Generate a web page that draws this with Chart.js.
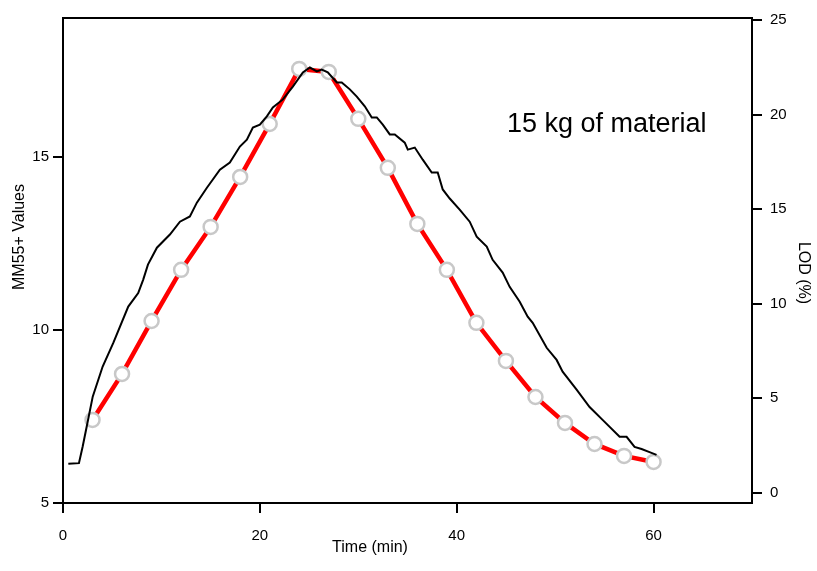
<!DOCTYPE html>
<html>
<head>
<meta charset="utf-8">
<title>MM55+ / LOD</title>
<script src="https://cdn.jsdelivr.net/npm/chart.js@4/dist/chart.umd.min.js"></script>
<style>
  html, body { margin: 0; padding: 0; background: #fff; }
  canvas { display: block; }
</style>
</head>
<body>
<canvas id="c" width="817" height="571"></canvas>
<script>
// MM55+ (courbe continue, axe gauche) et LOD mesure toutes les 3 min (axe droit).
const mmTime = [0.54, 1.62, 2.0, 2.41, 3.02, 4.03, 5.11, 6.63, 7.64, 8.15, 8.63, 9.54, 10.86, 11.88, 12.89,
  13.6, 14.62, 15.94, 16.95, 17.97, 18.68, 19.29, 20.0, 20.71, 21.32, 22.34, 23.35, 24.37, 25.08, 25.79,
  26.29, 26.9, 27.82, 28.32, 29.14, 29.85, 30.66, 31.37, 31.88, 32.49, 33.2, 33.71, 34.72, 35.03, 35.74,
  36.55, 37.46, 38.07, 38.58, 39.29, 40.3, 41.32, 42.03, 43.05, 43.65, 44.67, 45.38, 46.4, 47.21, 47.72,
  49.14, 50.15, 50.76, 52.18, 53.5, 54.82, 56.55, 57.26, 58.07, 58.78, 59.59, 60.3];
const mmValues = [6.13, 6.15, 6.63, 7.21, 8.07, 8.94, 9.62, 10.67, 11.06, 11.45, 11.88, 12.37, 12.75, 13.12, 13.27,
  13.67, 14.10, 14.62, 14.83, 15.29, 15.49, 15.84, 15.92, 16.16, 16.42, 16.65, 17.02, 17.43, 17.57, 17.46,
  17.51, 17.43, 17.14, 17.14, 16.94, 16.73, 16.45, 16.13, 16.13, 15.92, 15.64, 15.64, 15.40, 15.20, 15.26,
  14.91, 14.54, 14.54, 14.05, 13.79, 13.47, 13.12, 12.69, 12.40, 12.02, 11.65, 11.24, 10.81, 10.38, 10.20,
  9.48, 9.13, 8.79, 8.27, 7.77, 7.40, 6.91, 6.91, 6.62, 6.56, 6.47, 6.39];

const lodTime = [3, 6, 9, 12, 15, 18, 21, 24, 27, 30, 33, 36, 39, 42, 45, 48, 51, 54, 57, 60];
const lodValues = [3.86, 6.29, 9.09, 11.79, 14.06, 16.70, 19.50, 22.41, 22.25, 19.77, 17.18, 14.22, 11.79,
  8.99, 6.98, 5.07, 3.70, 2.59, 1.96, 1.64];

const xTicks = [0, 20, 40, 60];
const mmTicks = [5, 10, 15];
const lodTicks = [0, 5, 10, 15, 20, 25];

const FONT = "'Liberation Sans', Arial, sans-serif";

function fixTicks(list) {
  return scale => { scale.ticks = list.map(v => ({ value: v })); };
}

const axisStyle = {
  grid: { drawOnChartArea: false, drawTicks: true, tickLength: 10, color: "#000", lineWidth: 2 },
  border: { display: true, color: "#000", width: 2 },
};

// cadre du haut + titres et annotation, places a la main
const decor = {
  id: "decor",
  afterDraw(chart) {
    const { ctx, chartArea: a } = chart;
    ctx.save();
    ctx.strokeStyle = "#000";
    ctx.lineWidth = 2;
    ctx.beginPath();
    ctx.moveTo(a.left - 1, a.top);
    ctx.lineTo(a.right + 1, a.top);
    ctx.stroke();

    ctx.fillStyle = "#000";
    ctx.textAlign = "center";
    ctx.textBaseline = "middle";
    ctx.font = `16px ${FONT}`;
    ctx.fillText("Time (min)", 370, 548);

    ctx.save();
    ctx.translate(20, 237);
    ctx.rotate(-Math.PI / 2);
    ctx.fillText("MM55+ Values", 0, 0);
    ctx.restore();

    ctx.save();
    ctx.translate(803, 273);
    ctx.rotate(Math.PI / 2);
    ctx.fillText("LOD (%)", 0, 0);
    ctx.restore();

    ctx.textAlign = "left";
    ctx.font = `27px ${FONT}`;
    ctx.fillText("15 kg of material", 507, 125);
    ctx.restore();
  },
};

new Chart(document.getElementById("c"), {
  type: "line",
  data: {
    datasets: [
      {
        label: "MM55+",
        data: mmTime.map((t, i) => ({ x: t, y: mmValues[i] })),
        yAxisID: "y",
        borderColor: "#000",
        borderWidth: 2,
        pointRadius: 0,
        tension: 0,
      },
      {
        label: "LOD (%)",
        data: lodTime.map((t, i) => ({ x: t, y: lodValues[i] })),
        yAxisID: "y2",
        borderColor: "#ff0000",
        borderWidth: 4.5,
        pointRadius: 7,
        pointBorderWidth: 2.5,
        pointBorderColor: "#c8c8c8",
        pointBackgroundColor: "#fff",
        tension: 0,
      },
    ],
  },
  options: {
    responsive: false,
    animation: false,
    layout: { padding: { top: 18, left: 0, right: 0, bottom: 0 } },
    plugins: { legend: { display: false }, tooltip: { enabled: false } },
    scales: {
      x: {
        type: "linear",
        min: 0,
        max: 70,
        afterBuildTicks: fixTicks(xTicks),
        afterFit: s => { s.height = 68; },
        ticks: { color: "#000", font: { family: FONT, size: 15 }, padding: 14, maxRotation: 0 },
        ...axisStyle,
      },
      y: {
        position: "left",
        min: 5,
        max: 19,
        afterBuildTicks: fixTicks(mmTicks),
        afterFit: s => { s.width = 63; },
        ticks: { color: "#000", font: { family: FONT, size: 15 }, padding: 4 },
        ...axisStyle,
      },
      y2: {
        position: "right",
        min: -0.53,
        max: 25.1,
        afterBuildTicks: fixTicks(lodTicks),
        afterFit: s => { s.width = 65; },
        ticks: { color: "#000", font: { family: FONT, size: 15 }, padding: 8 },
        ...axisStyle,
      },
    },
  },
  plugins: [decor],
});
</script>
</body>
</html>
